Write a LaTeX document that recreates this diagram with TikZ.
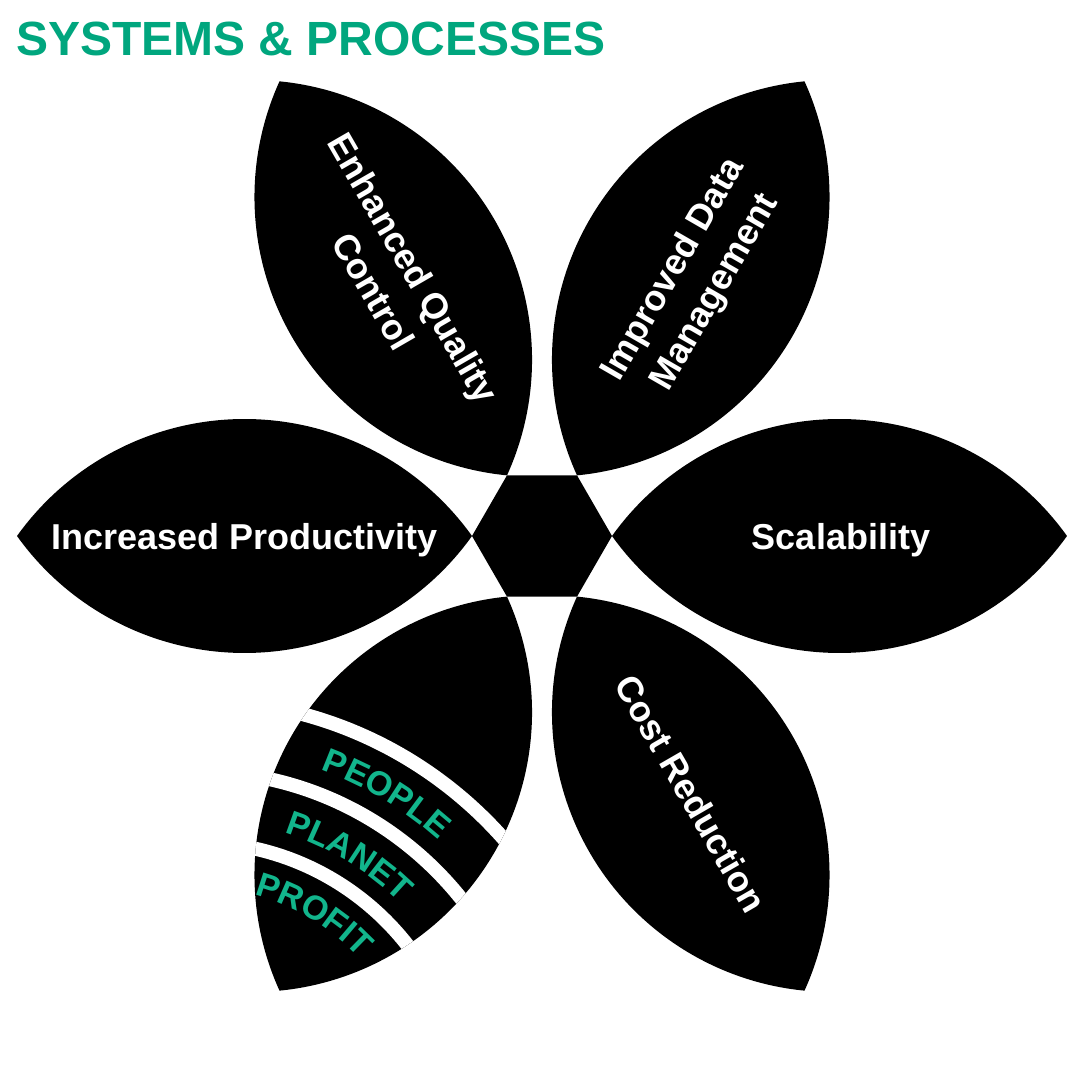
\documentclass[tikz,border=0pt]{standalone}
\usepackage{fontspec}
\setmainfont{Liberation Sans}
\usetikzlibrary{decorations.text}
\definecolor{tgreen}{HTML}{00A67E}
\definecolor{pgreen}{HTML}{12B58C}
\newcommand\petalpath{(70,0) arc[start angle=144.43, end angle=35.57, radius=279.7] arc[start angle=-35.57, end angle=-144.43, radius=279.7] -- cycle}
\newcommand\pfont{\fontsize{34}{40}\selectfont\bfseries}
\tikzset{
  petal/.style={fill=black},
  stripe/.style={draw=white, line width=14},
  lbl/.style={text=white, inner sep=0pt, font=\fontsize{36}{43}\selectfont\bfseries, text height=25.8pt, text depth=0pt},
}
\begin{document}
\begin{tikzpicture}[x=1pt,y=1pt]
\useasboundingbox (0,0) rectangle (1080,1080);
\fill[white] (0,0) rectangle (1080,1080);
% title
\node[anchor=base west, inner sep=0pt, text=tgreen, font=\fontsize{48}{58}\selectfont\bfseries] (title) at (16,1024) {SYSTEMS \& PROCESSES};
% centre hexagon
\fill[black, shift={(542,544)}] (0:70) -- (60:70) -- (120:70) -- (180:70) -- (240:70) -- (300:70) -- cycle;
% petals
\foreach \a in {0,60,120,180,240,300}{
  \fill[petal, shift={(542,544)}, rotate=\a] \petalpath;
}
% stripes in lower-left petal
\begin{scope}
  \clip[shift={(542,544)}, rotate=240] \petalpath;
  \draw[stripe] (196.3,-30.2) circle[radius=410];
  \draw[stripe] (196.3,-30.2) circle[radius=339];
  \draw[stripe] (196.3,-30.2) circle[radius=268];
\end{scope}
\path[decorate, decoration={text along path, text={|\pfont|PEOPLE}, text align=center, text color=pgreen}]
  (196.3,-30.2) ++(89:362.5) arc[start angle=89, end angle=29, radius=362.5];
\path[decorate, decoration={text along path, text={|\pfont|PLANET}, text align=center, text color=pgreen}]
  (196.3,-30.2) ++(89:291) arc[start angle=89, end angle=29, radius=291];
\path[decorate, decoration={text along path, text={|\pfont|PROFIT}, text align=center, text color=pgreen}]
  (196.3,-30.2) ++(94:223) arc[start angle=94, end angle=24, radius=223];
% labels
\node[lbl] (prod) at (244.5,543) {Increased Productivity};
\node[lbl] (scal) at (841,543) {Scalability};
\node[lbl, rotate=-60] (cost) at (690.75,286.4) {Cost Reduction};
\node[lbl, rotate=-60] (eq1) at (414,812) {Enhanced Quality};
\node[lbl, rotate=-60] (eq2) at (374,789) {Control};
\node[lbl, rotate=60] (idm1) at (671,812) {Improved Data};
\node[lbl, rotate=60] (idm2) at (712,789) {Management};
\end{tikzpicture}
\end{document}
